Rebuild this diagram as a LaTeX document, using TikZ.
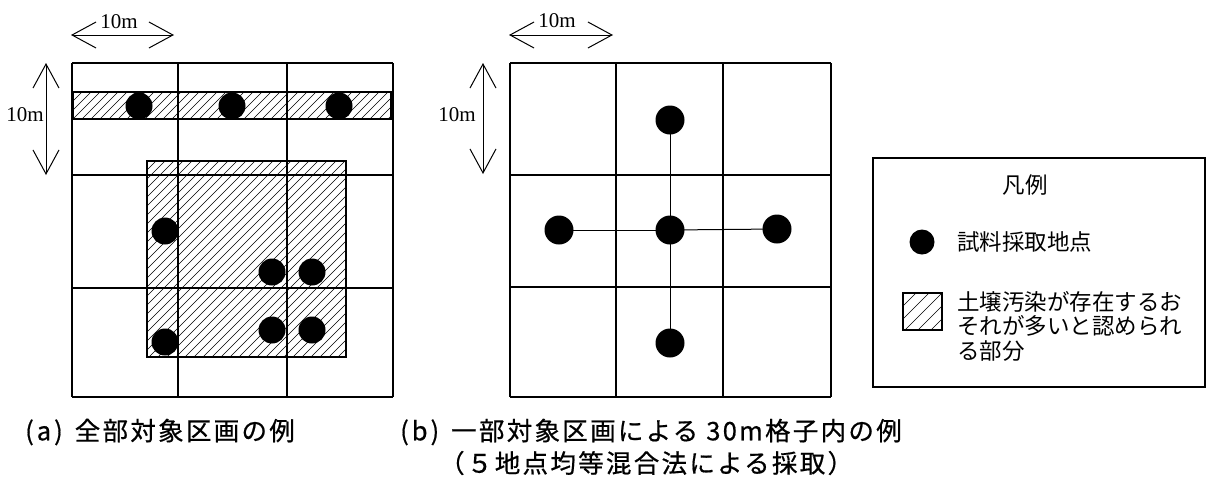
\documentclass[tikz,border=0pt]{standalone}
\usepackage{fontspec}
\setmainfont{Liberation Serif}
\newfontfamily\jpfont{Noto Sans CJK JP}
\newfontfamily\capfont[LetterSpace=9,FakeBold=0.6]{Noto Sans CJK JP}
\usetikzlibrary{arrows.meta}
\newcommand\HatchRect[5][9]{% spacing, x1, y1, x2, y2
  \pgfmathsetmacro\hH{#5-#3}
  \pgfmathsetmacro\hS{#2-\hH}
  \pgfmathsetmacro\hT{#2-\hH+#1}
  \begin{scope}
    \clip (#2,#3) rectangle (#4,#5);
    \foreach \k in {\hS,\hT,...,#4} { \draw[hatch] (\k,#5) -- ++(\hH,-\hH); }
  \end{scope}
  \draw[box] (#2,#3) rectangle (#4,#5);
}
\newcommand\Tag[1]{(\hspace{3pt}#1\hspace{3pt})\hspace{12pt}}
\tikzset{
  grid line/.style={line width=1.1pt},
  box/.style={line width=1.3pt},
  hatch/.style={line width=0.6pt},
  dot/.style={circle, fill=black, inner sep=0pt, minimum size=27pt},
  dim/.style={line width=1pt,
    {Straight Barb[length=24pt,width=26pt]}-{Straight Barb[length=24pt,width=26pt]}},
  dimlabel/.style={font=\fontsize{21}{22}\selectfont, inner sep=0pt},
  legendtext/.style={font=\jpfont\fontsize{22.5}{24.5}\selectfont, inner sep=0pt},
  caption/.style={font=\capfont\fontsize{25.5}{31}\selectfont, inner sep=0pt, anchor=west},
}
\begin{document}
\begin{tikzpicture}[x=1pt, y=-1pt]
\useasboundingbox (0,0) rectangle (1209,483);

% (a) all cells
\foreach \x in {72,178,287,393} { \draw[grid line] (\x,63) -- (\x,397); }
\foreach \y in {63,175,288,397} { \draw[grid line] (72,\y) -- (393,\y); }
\HatchRect{73}{92}{391}{119}
\HatchRect{147}{161}{346}{357}
\foreach \n/\x/\y in {a1/139/106, a2/232/106, a3/339/106,
  a4/165/231, a5/272/272, a6/312/272, a7/165/342, a8/272/330, a9/312/330}
  { \node[dot] (\n) at (\x,\y) {}; }

% (a) cell size
\coordinate (ah1) at (71,35);  \coordinate (ah2) at (174,35);
\coordinate (av1) at (46,63);  \coordinate (av2) at (46,175);
\draw[dim] (ah1) -- (ah2);
\draw[dim] (av1) -- (av2);
\node[dimlabel] (ahl) at (119,22) {10m};
\node[dimlabel, fill=white] (avl) at (25,115) {10m};

% (b) five points
\foreach \x in {510,616,723,831} { \draw[grid line] (\x,63) -- (\x,397); }
\foreach \y in {63,175,287,397} { \draw[grid line] (510,\y) -- (831,\y); }
\node[dot, minimum size=29pt] (bc) at (670,230) {};
\node[dot, minimum size=29pt] (bt) at (670,120) {};
\node[dot, minimum size=29pt] (bl) at (559,230) {};
\node[dot, minimum size=29pt] (br) at (777,229) {};
\node[dot, minimum size=29pt] (bb) at (670,343) {};
\foreach \n in {bt,bl,br,bb} { \draw[line width=1pt] (bc.center) -- (\n.center); }

% (b) cell size
\coordinate (bh1) at (509,35); \coordinate (bh2) at (613,35);
\coordinate (bv1) at (483,63); \coordinate (bv2) at (483,174);
\draw[dim] (bh1) -- (bh2);
\draw[dim] (bv1) -- (bv2);
\node[dimlabel] (bhl) at (557,21) {10m};
\node[dimlabel] (bvl) at (457,115) {10m};

% legend
\draw[box] (873,158) rectangle (1205,387);
\node[legendtext] (lgtitle) at (1025,185) {凡例};
\node[dot, minimum size=25pt] (lgdot) at (922,242) {};
\node[legendtext, anchor=west] (lgdottext) at (957,242) {試料採取地点};
\HatchRect[13]{903}{293}{942}{330}
\node[legendtext, anchor=north west, align=left] (lghatchtext) at (957,291)
  {土壌汚染が存在するお\\それが多いと認められ\\る部分};

% captions
\node[caption] (capa) at (25,432) {\Tag{a}全部対象区画の例};
\node[caption] (capb) at (400,432) {\Tag{b}一部対象区画による 30m格子内の例};
\node[caption] (capb2) at (439,463) {（５地点均等混合法による採取）};
\end{tikzpicture}
\end{document}
